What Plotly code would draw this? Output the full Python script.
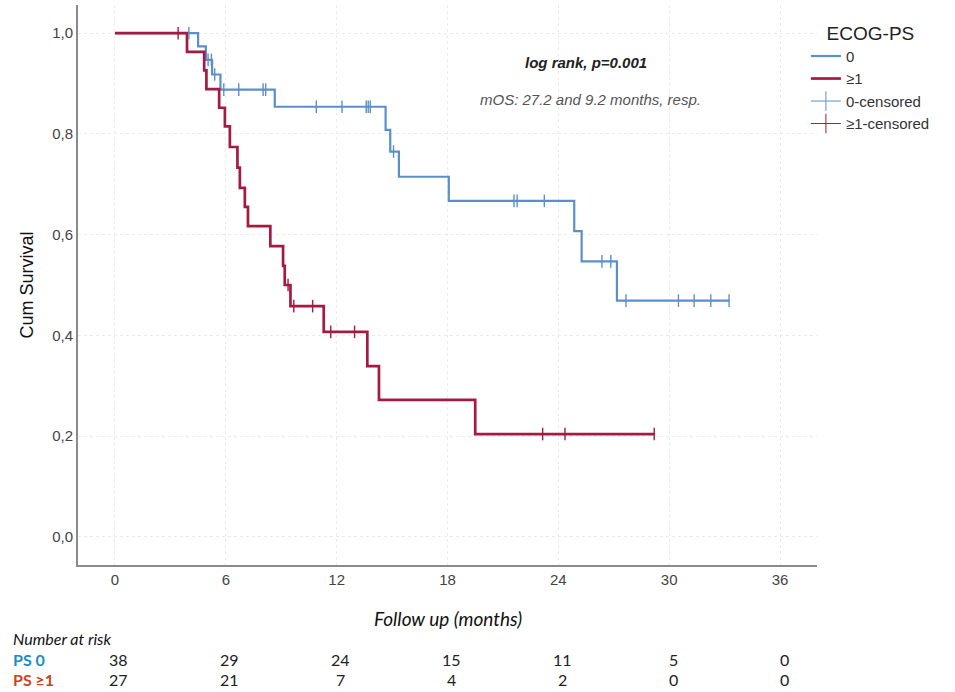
import plotly.graph_objects as go

# ---- data ----
ps0_event_times = [4.5, 4.92, 5.26, 5.71, 8.65, 14.65, 14.9, 15.37, 18.07, 24.86, 25.26, 27.17]
ps0_survival = [0.974, 0.947, 0.918, 0.888, 0.854, 0.808, 0.765, 0.715, 0.667, 0.607, 0.547, 0.469]
ps0_censor_times = [4.0, 5.04, 5.22, 5.4, 5.89, 6.7, 8.02, 8.16, 10.9, 12.29, 13.6, 13.71, 13.82,
                    15.08, 21.6, 21.77, 23.24, 26.36, 26.84, 27.66, 30.5, 31.35, 32.25, 33.24]

ps1_event_times = [3.9, 4.83, 4.95, 5.64, 5.95, 6.22, 6.63, 6.76, 7.03, 7.2, 8.41, 9.1, 9.19, 9.5,
                   11.3, 13.66, 14.29, 19.5]
ps1_survival = [0.963, 0.926, 0.889, 0.852, 0.815, 0.774, 0.733, 0.693, 0.655, 0.617, 0.577, 0.538,
                0.500, 0.458, 0.407, 0.339, 0.272, 0.204]
ps1_censor_times = [3.42, 9.37, 9.68, 10.7, 11.68, 12.97, 23.15, 24.36, 29.19]

risk_times = [0, 6, 12, 18, 24, 30, 36]
risk_ps0 = [38, 29, 24, 15, 11, 5, 0]
risk_ps1 = [27, 21, 7, 4, 2, 0, 0]

x_ticks = [0, 6, 12, 18, 24, 30, 36]
y_ticks = [0.0, 0.2, 0.4, 0.6, 0.8, 1.0]

BLUE = "#5b8fcb"
RED = "#a51a43"
FONT = "Liberation Sans"
TABLE_FONT = "Lato"


def km_curve(times, surv, end):
    xs = [0.0] + list(times) + [end]
    ys = [1.0] + list(surv) + [surv[-1]]
    return xs, ys


def surv_at(t, times, surv):
    s = 1.0
    for tt, ss in zip(times, surv):
        if tt <= t:
            s = ss
    return s


fig = go.Figure()

groups = [
    ("0", ps0_event_times, ps0_survival, ps0_censor_times, BLUE, 2.2),
    ("≥1", ps1_event_times, ps1_survival, ps1_censor_times, RED, 2.7),
]

for name, et, sv, ct, col, w in groups:
    xs, ys = km_curve(et, sv, max(ct))
    fig.add_trace(go.Scatter(x=xs, y=ys, mode="lines", line=dict(color=col, width=w, shape="hv"),
                             name=name, legendgroup=name, hoverinfo="skip"))

for name, et, sv, ct, col, w in groups:
    cy = [surv_at(t, et, sv) for t in ct]
    fig.add_trace(go.Scatter(x=ct, y=cy, mode="markers",
                             marker=dict(symbol="line-ns", size=9, line=dict(color=col, width=1.4)),
                             showlegend=False, legendgroup=name + "c", hoverinfo="skip"))
    # legend entry drawn as a cross, like the reference
    fig.add_trace(go.Scatter(x=[None], y=[None], mode="lines+markers", name=name + "-censored",
                             legendgroup=name + "c",
                             line=dict(color=col, width=1),
                             marker=dict(symbol="line-ns", size=14, line=dict(color=col, width=1))))


def note(text, x, y, font, xref="paper", xanchor="center", xshift=0):
    return dict(text=text, x=x, y=y, xref=xref, yref="paper", xanchor=xanchor, yanchor="middle",
                xshift=xshift, showarrow=False, font=font)


ROW0_Y = -0.1679
ROW1_Y = -0.2036

annotations = [
    note("<b><i>log rank, p=0.001</i></b>", 0.687, 0.898,
         dict(family=FONT, size=15, color="#222222")),
    note("<i>mOS: 27.2 and 9.2 months, resp.</i>", 0.694, 0.832,
         dict(family=FONT, size=15, color="#555555")),
    note("<i>Follow up (months)</i>", 0.5, -0.0964, dict(family=TABLE_FONT, size=19, color="#111111")),
    note("<i>Number at risk</i>", -0.091, -0.1321, dict(family=TABLE_FONT, size=16, color="#111111"),
         xanchor="left"),
    note("<b>PS 0</b>", -0.091, ROW0_Y, dict(family=TABLE_FONT, size=16, color="#1a8cc8"),
         xanchor="left"),
    note("<b>PS ≥1</b>", -0.091, ROW1_Y, dict(family=TABLE_FONT, size=16, color="#c8461c"),
         xanchor="left"),
]
for t, n0, n1 in zip(risk_times, risk_ps0, risk_ps1):
    annotations.append(note(str(n0), t, ROW0_Y, dict(family=TABLE_FONT, size=16, color="#222222"),
                            xref="x", xshift=4))
    annotations.append(note(str(n1), t, ROW1_Y, dict(family=TABLE_FONT, size=16, color="#222222"),
                            xref="x", xshift=4))

fig.update_layout(
    width=955, height=692,
    margin=dict(l=78, r=138, t=5, b=127),
    paper_bgcolor="white", plot_bgcolor="white",
    separators=",.",
    font=dict(family=FONT, size=15, color="#444444"),
    showlegend=True,
    legend=dict(x=0.985, y=0.982, xanchor="left", yanchor="top",
                title=dict(text="ECOG-PS", side="top center",
                           font=dict(family=FONT, size=19, color="#222222")),
                font=dict(family=FONT, size=15, color="#333333"),
                tracegroupgap=0, itemwidth=30, bgcolor="rgba(0,0,0,0)"),
    annotations=annotations,
)

fig.update_xaxes(range=[-2, 38], tickvals=x_ticks, showline=True, linecolor="#8a8a8a", linewidth=2,
                 showgrid=True, gridcolor="#ebebeb", griddash="dot", gridwidth=1, zeroline=False,
                 ticks="", tickfont=dict(family=FONT, size=15, color="#444444"))
fig.update_yaxes(range=[-0.056, 1.056], tickvals=y_ticks, tickformat=".1f", showline=True,
                 linecolor="#8a8a8a", linewidth=2, showgrid=True, gridcolor="#ebebeb",
                 griddash="dot", gridwidth=1, zeroline=False, ticks="",
                 tickfont=dict(family=FONT, size=15, color="#444444"),
                 title=dict(text="Cum Survival", font=dict(family=FONT, size=18, color="#111111"),
                            standoff=14))

fig.write_html("out.html")
